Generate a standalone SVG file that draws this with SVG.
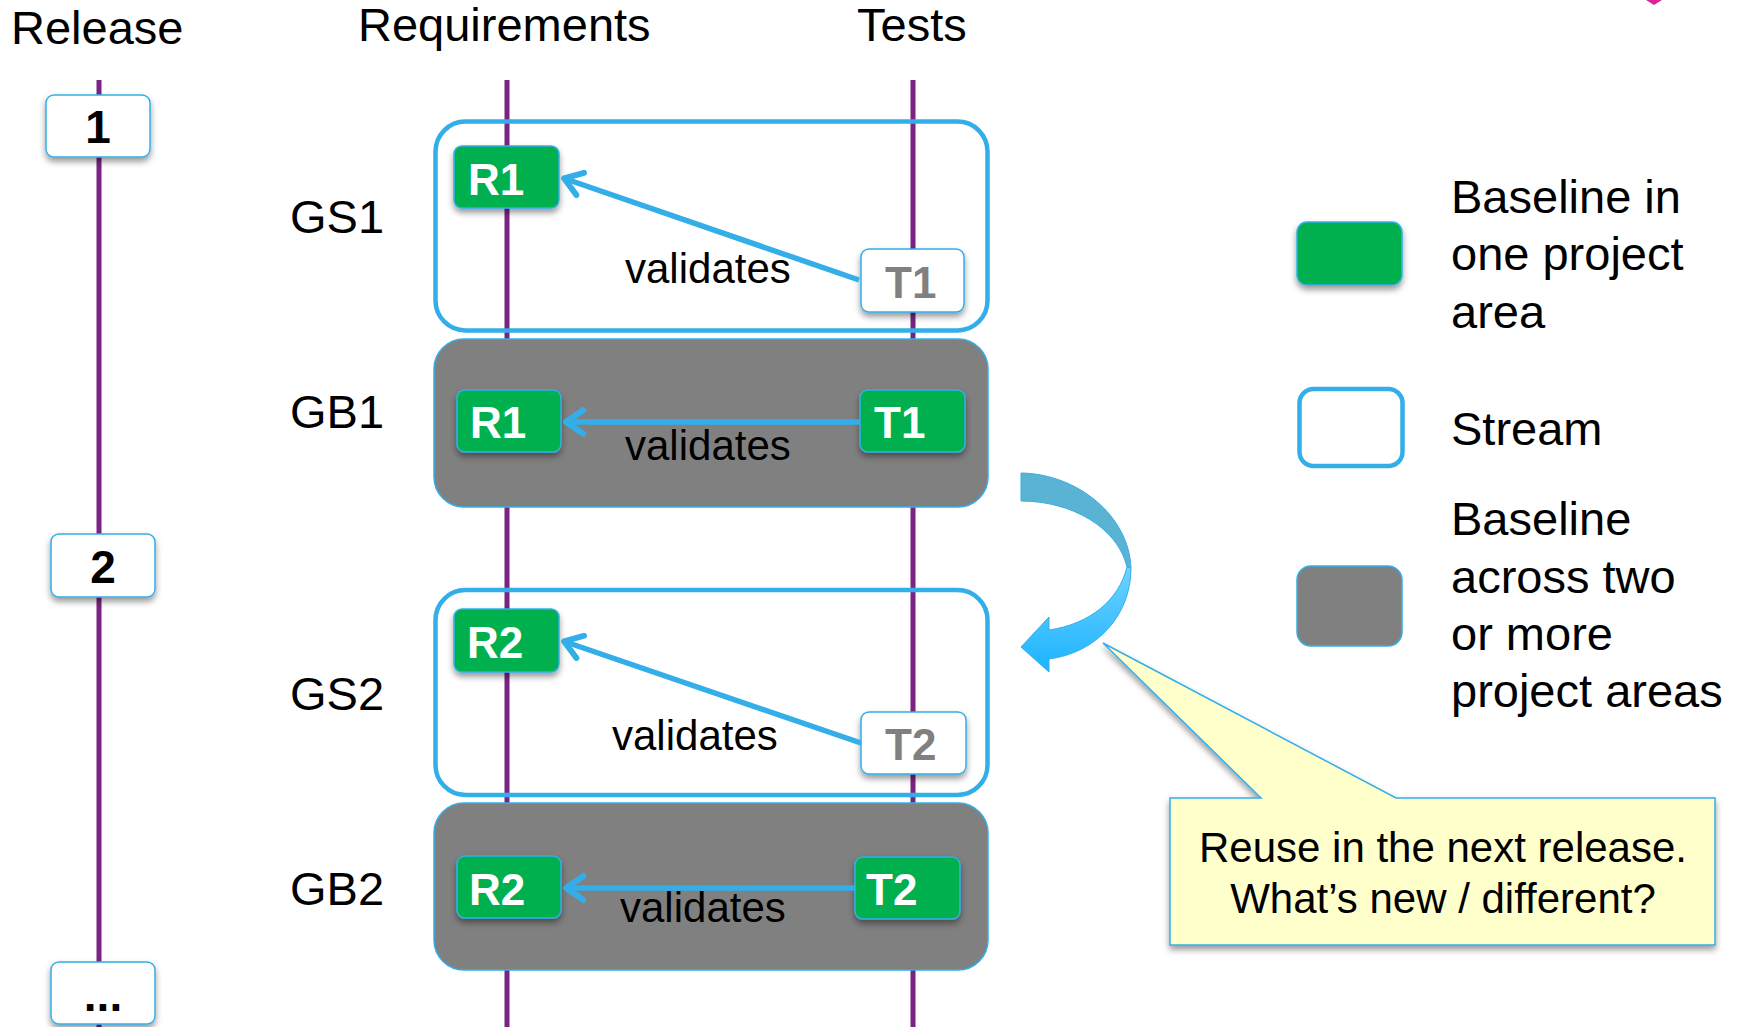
<svg xmlns="http://www.w3.org/2000/svg" width="1744" height="1027" viewBox="0 0 1744 1027">
  <defs>
    <style>
      text { font-family: "Liberation Sans", Arial, sans-serif; }
      .big { font-size: 47px; fill: #000; }
      .rel { font-size: 46px; font-weight: bold; fill: #000; text-anchor: middle; }
      .tag { font-size: 44px; font-weight: bold; }
      .val { font-size: 42px; fill: #000; }
      .note { font-size: 42px; fill: #000; text-anchor: middle; }
      .lane { stroke: #7A2382; stroke-width: 5; fill: none; }
      .relbox { fill: #fff; stroke: #33AEE8; stroke-width: 1.5; }
      .base { fill: #00B050; stroke: #33AEE8; stroke-width: 1.5; }
      .tbox { fill: #fff; stroke: #33AEE8; stroke-width: 1.5; }
      .stream { fill: none; stroke: #33AEE8; stroke-width: 4.5; }
      .shared { fill: #808080; stroke: #33AEE8; stroke-width: 1.5; }
      .link { stroke: #33AEE8; stroke-width: 5.5; fill: none; }
    </style>
    <filter id="shadow" x="-20%" y="-20%" width="140%" height="160%">
      <feDropShadow dx="0" dy="4" stdDeviation="3" flood-color="#000" flood-opacity="0.4"/>
    </filter>
    <marker id="open" markerUnits="userSpaceOnUse" markerWidth="30" markerHeight="30" viewBox="-24 -14 28 28" refX="0" refY="0" orient="auto">
      <path d="M-17,-11 L-1,0 L-17,11" fill="none" stroke="#33AEE8" stroke-width="5.5" stroke-linecap="round" stroke-linejoin="round"/>
    </marker>
    <linearGradient id="bend" x1="0" y1="0" x2="0" y2="1">
      <stop offset="0" stop-color="#6FD2FF"/>
      <stop offset="1" stop-color="#1BB3FF"/>
    </linearGradient>
  </defs>

  <rect width="1744" height="1027" fill="#fff"/>

  <!-- column headings -->
  <text class="big" x="11" y="44">Release</text>
  <text class="big" x="358" y="41">Requirements</text>
  <text class="big" x="857" y="41">Tests</text>

  <!-- small mark at the top edge -->
  <polygon points="1646,0 1662,0 1654,5" fill="#E0209A"/>

  <!-- vertical lanes -->
  <g id="lanes">
    <line class="lane" x1="99" y1="80" x2="99" y2="1027"/>
    <line class="lane" x1="507" y1="80" x2="507" y2="1027"/>
    <line class="lane" x1="913" y1="80" x2="913" y2="1027"/>
  </g>

  <!-- release markers -->
  <g id="release-1">
    <rect class="relbox" x="46" y="95" width="104" height="62" rx="8" filter="url(#shadow)"/>
    <text class="rel" x="98" y="143">1</text>
  </g>
  <g id="release-2">
    <rect class="relbox" x="51" y="534" width="104" height="63" rx="8" filter="url(#shadow)"/>
    <text class="rel" x="103" y="583">2</text>
  </g>
  <g id="release-more">
    <rect class="relbox" x="51" y="962" width="104" height="62" rx="8" filter="url(#shadow)"/>
    <text class="rel" x="103" y="1011">...</text>
  </g>

  <!-- GS1 stream -->
  <g id="GS1">
    <text class="big" x="290" y="233">GS1</text>
    <rect class="stream" x="435.5" y="121.5" width="552" height="209" rx="30"/>
  </g>
  <g id="GS1-R1">
    <rect class="base" x="454" y="146" width="105" height="62" rx="8" filter="url(#shadow)"/>
    <text class="tag" x="468" y="195" fill="#fff">R1</text>
  </g>
  <g id="GS1-T1">
    <rect class="tbox" x="861" y="249" width="103" height="63" rx="8" filter="url(#shadow)"/>
    <text class="tag" x="885" y="298" fill="#808080">T1</text>
  </g>

  <!-- GB1 baseline -->
  <g id="GB1">
    <text class="big" x="290" y="428">GB1</text>
    <rect class="shared" x="434" y="339" width="554" height="168" rx="30"/>
  </g>
  <g id="GB1-R1">
    <rect class="base" x="457" y="390" width="104" height="62" rx="8" filter="url(#shadow)"/>
    <text class="tag" x="470" y="438" fill="#fff">R1</text>
  </g>
  <g id="GB1-T1">
    <rect class="base" x="860" y="390" width="105" height="62" rx="8" filter="url(#shadow)"/>
    <text class="tag" x="874" y="438" fill="#fff">T1</text>
  </g>

  <!-- GS2 stream -->
  <g id="GS2">
    <text class="big" x="290" y="710">GS2</text>
    <rect class="stream" x="435.5" y="590" width="552" height="205" rx="30"/>
  </g>
  <g id="GS2-R2">
    <rect class="base" x="454" y="609" width="105" height="63" rx="8" filter="url(#shadow)"/>
    <text class="tag" x="467" y="658" fill="#fff">R2</text>
  </g>
  <g id="GS2-T2">
    <rect class="tbox" x="861" y="712" width="105" height="62" rx="8" filter="url(#shadow)"/>
    <text class="tag" x="885" y="760" fill="#808080">T2</text>
  </g>

  <!-- GB2 baseline -->
  <g id="GB2">
    <text class="big" x="290" y="905">GB2</text>
    <rect class="shared" x="434" y="803" width="554" height="167" rx="30"/>
  </g>
  <g id="GB2-R2">
    <rect class="base" x="457" y="856" width="104" height="62" rx="8" filter="url(#shadow)"/>
    <text class="tag" x="469" y="905" fill="#fff">R2</text>
  </g>
  <g id="GB2-T2">
    <rect class="base" x="855" y="857" width="105" height="62" rx="8" filter="url(#shadow)"/>
    <text class="tag" x="866" y="905" fill="#fff">T2</text>
  </g>

  <!-- validates links -->
  <g id="connectors">
    <line class="link" x1="859" y1="280" x2="563" y2="178" marker-end="url(#open)"/>
    <text class="val" x="625" y="283">validates</text>
    <line class="link" x1="860" y1="422" x2="565" y2="422" marker-end="url(#open)"/>
    <text class="val" x="625" y="460">validates</text>
    <line class="link" x1="861" y1="743" x2="563" y2="641" marker-end="url(#open)"/>
    <text class="val" x="612" y="750">validates</text>
    <line class="link" x1="855" y1="888" x2="565" y2="888" marker-end="url(#open)"/>
    <text class="val" x="620" y="922">validates</text>
  </g>

  <!-- curved reuse arrow -->
  <g id="reuse-arrow">
    <path d="M1021,473 C1078,474 1129,516 1131,568 L1127,567 C1118,528 1072,501 1021,501 Z" fill="#5AB3D3" stroke="#33AEE8" stroke-width="1"/>
    <path d="M1127,567 L1131,568 C1131,616 1096,653 1049,659 L1049,672 L1021,647 L1049,617 L1049,630 C1090,624 1119,600 1127,567 Z" fill="url(#bend)" stroke="#33AEE8" stroke-width="1"/>
  </g>

  <!-- callout -->
  <g id="callout">
    <path d="M1170,798 L1261,798 L1103,643 L1396,798 L1715,798 L1715,945 L1170,945 Z" fill="#FFFFCC" stroke="#33AEE8" stroke-width="1.5" filter="url(#shadow)"/>
    <text class="note" x="1443" y="862">Reuse in the next release.</text>
    <text class="note" x="1443" y="913">What’s new / different?</text>
  </g>

  <!-- legend -->
  <g id="legend-baseline">
    <rect class="base" x="1297" y="222" width="105" height="63" rx="10" filter="url(#shadow)"/>
    <text class="big" x="1451" y="213">Baseline in</text>
    <text class="big" x="1451" y="270">one project</text>
    <text class="big" x="1451" y="328">area</text>
  </g>
  <g id="legend-stream">
    <rect class="stream" x="1299.5" y="389" width="103" height="77" rx="14"/>
    <text class="big" x="1451" y="445">Stream</text>
  </g>
  <g id="legend-shared">
    <rect class="shared" x="1297" y="566" width="105" height="80" rx="14"/>
    <text class="big" x="1451" y="535">Baseline</text>
    <text class="big" x="1451" y="593">across two</text>
    <text class="big" x="1451" y="650">or more</text>
    <text class="big" x="1451" y="707">project areas</text>
  </g>
</svg>
